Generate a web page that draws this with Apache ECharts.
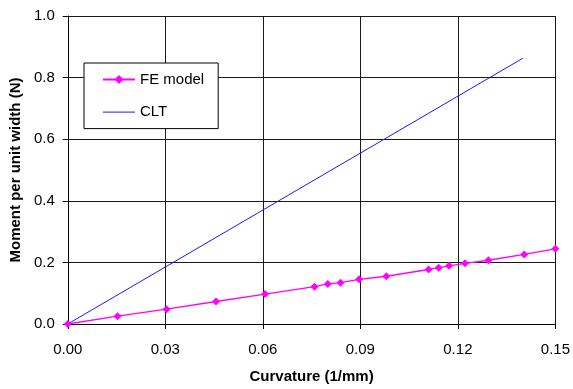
<!DOCTYPE html>
<html>
<head>
<meta charset="utf-8">
<script src="https://cdn.jsdelivr.net/npm/echarts@6/dist/echarts.min.js"></script>
<style>
  html, body { margin: 0; padding: 0; background: #fff; }
  #chart { width: 573px; height: 389px; }
</style>
</head>
<body>
<div id="chart"></div>
<script>
// Curvature (1/mm) and moment per unit width (N) for the FE model
const feCurvature = [0, 0.0153, 0.0304, 0.0456, 0.0607, 0.0759, 0.0800, 0.0839, 0.0896,
  0.0980, 0.1110, 0.1141, 0.1173, 0.1222, 0.1294, 0.1404, 0.150];
const feMoment = [0, 0.0255, 0.048, 0.073, 0.097, 0.121, 0.130, 0.134, 0.145,
  0.155, 0.177, 0.183, 0.189, 0.197, 0.207, 0.226, 0.244];

// Classical laminate theory: linear response
const cltCurvature = [0, 0.14];
const cltMoment = [0, 0.863];

const xTicks = ['0.00', '0.03', '0.06', '0.09', '0.12', '0.15'];
const yTicks = ['0.0', '0.2', '0.4', '0.6', '0.8', '1.0'];

const pairs = (xs, ys) => xs.map((x, i) => [x, ys[i]]);

const font = 'Liberation Sans, Arial, sans-serif';
const gridLine = { show: true, lineStyle: { color: '#1a1a1a', width: 1 } };
const cltColor = '#1a1aff';

const chart = echarts.init(document.getElementById('chart'));
chart.setOption({
  animation: false,
  backgroundColor: '#ffffff',
  grid: { left: 65, top: 16, width: 491, height: 314 },
  legend: {
    orient: 'vertical',
    left: 84,
    top: 63,
    padding: [9, 14, 9, 18],
    itemWidth: 32,
    itemHeight: 11,
    itemGap: 17.6,
    borderColor: '#000',
    borderWidth: 1,
    backgroundColor: '#fff',
    textStyle: { fontFamily: font, fontSize: 15, color: '#000', lineHeight: 15 },
    data: [
      'FE model',
      // plain line key for the CLT series
      { name: 'CLT', icon: 'path://M0,0H32V1H0Z', itemStyle: { color: cltColor } }
    ]
  },
  xAxis: {
    type: 'value',
    min: 0, max: 0.15, interval: 0.03,
    name: 'Curvature (1/mm)',
    nameLocation: 'middle',
    nameGap: 45,
    nameTextStyle: { fontFamily: font, fontSize: 15, fontWeight: 'bold', color: '#000' },
    axisLine: { show: true, onZero: false, lineStyle: { color: '#000', width: 1 } },
    axisTick: { show: true, inside: false, length: 5, lineStyle: { color: '#000' } },
    axisLabel: {
      margin: 18, fontFamily: font, fontSize: 15, color: '#000',
      formatter: (v) => xTicks[Math.round(v / 0.03)]
    },
    splitLine: gridLine
  },
  yAxis: {
    type: 'value',
    min: 0, max: 1.0, interval: 0.2,
    name: 'Moment per unit width (N)',
    nameLocation: 'middle',
    nameGap: 38,
    nameTextStyle: { fontFamily: font, fontSize: 15, fontWeight: 'bold', color: '#000' },
    axisLine: { show: true, onZero: false, lineStyle: { color: '#000', width: 1 } },
    axisTick: { show: true, inside: false, length: 5, lineStyle: { color: '#000' } },
    axisLabel: {
      margin: 13, fontFamily: font, fontSize: 15, color: '#000',
      padding: [3, 0, 0, 0],
      formatter: (v) => yTicks[Math.round(v / 0.2)]
    },
    splitLine: gridLine
  },
  series: [
    {
      name: 'FE model',
      type: 'line',
      data: pairs(feCurvature, feMoment),
      symbol: 'diamond',
      symbolSize: 8,
      clip: false,
      itemStyle: { color: '#ff00ff' },
      lineStyle: { color: '#ff00ff', width: 1.3 },
      z: 3
    },
    {
      name: 'CLT',
      type: 'line',
      data: pairs(cltCurvature, cltMoment),
      showSymbol: false,
      symbol: 'none',
      itemStyle: { color: cltColor },
      lineStyle: { color: cltColor, width: 1 },
      z: 2
    }
  ]
});
</script>
</body>
</html>
